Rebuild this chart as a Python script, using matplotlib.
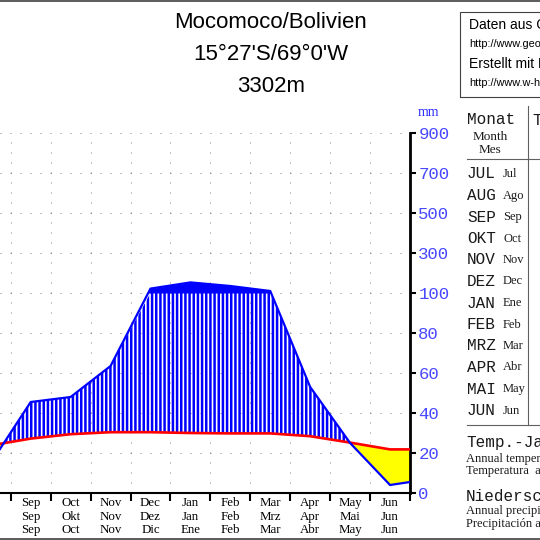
import numpy as np
import matplotlib.pyplot as plt
from matplotlib.lines import Line2D
from matplotlib.patches import Rectangle

# Klimadiagramm Mocomoco, Monate Jul..Jun (Suedhalbkugel)
months_en = ["Jul", "Aug", "Sep", "Oct", "Nov", "Dec", "Jan", "Feb", "Mar", "Apr", "May", "Jun"]
months_de = ["Jul", "Aug", "Sep", "Okt", "Nov", "Dez", "Jan", "Feb", "Mrz", "Apr", "Mai", "Jun"]
months_es = ["Jul", "Ago", "Sep", "Oct", "Nov", "Dic", "Ene", "Feb", "Mar", "Abr", "May", "Jun"]
table_de = ["JUL", "AUG", "SEP", "OKT", "NOV", "DEZ", "JAN", "FEB", "MRZ", "APR", "MAI", "JUN"]
table_es = ["Jul", "Ago", "Sep", "Oct", "Nov", "Dec", "Ene", "Feb", "Mar", "Abr", "May", "Jun"]

temp_c = [10.9, 11.9, 13.6, 14.7, 15.2, 15.2, 15.0, 14.9, 14.9, 14.2, 12.6, 10.9]
precip_mm = [7, 15, 45.5, 48, 63.5, 122, 153, 135, 110, 53, 25, 4]
mm_ticks = [0, 20, 40, 60, 80, 100, 300, 500, 700, 900]

plt.rcParams["hatch.linewidth"] = 1.8
plt.rcParams["hatch.color"] = "blue"

MONO = "Liberation Mono"
SERIF = "Liberation Serif"
SANS = "Liberation Sans"


def scale_mm(v):
    # ueber 100 mm wird im Massstab 1:10 gestaucht
    v = np.asarray(v, float)
    return np.where(v <= 100, v, 100 + (v - 100) / 10)


W = H = 540.0
fig = plt.figure(figsize=(5.4, 5.4), dpi=100)


def ftext(x, y, s, **kw):
    fig.text(x / W, 1 - y / H, s, **kw)


def fline(x0, y0, x1, y1, **kw):
    fig.add_artist(Line2D([x0 / W, x1 / W], [1 - y0 / H, 1 - y1 / H],
                          transform=fig.transFigure, **kw))


ax = fig.add_axes([0, 47 / H, 410 / W, 360 / H])

x = np.arange(13)
t = np.r_[temp_c, temp_c[0]] * 2
p = scale_mm(np.r_[precip_mm, precip_mm[0]])

ax.fill_between(x, t, np.minimum(p, 100), where=p >= t, interpolate=True,
                facecolor="none", edgecolor="blue", hatch="||||", lw=0, zorder=2)
ax.fill_between(x, 100, p, where=p > 100, interpolate=True,
                color="blue", lw=0, zorder=2)
ax.fill_between(x, p, t, where=p < t, interpolate=True,
                color="yellow", lw=0, zorder=2)
ax.plot(x, t, color="red", lw=1.9, zorder=3)
ax.plot(x, p, color="blue", lw=1.6, zorder=4)

ax.set_xticks(np.arange(0.5, 12, 1))
ax.set_xticks(np.arange(12), [f"{a}\n{b}\n{c}" for a, b, c in zip(months_en, months_de, months_es)],
              minor=True)
ax.tick_params(axis="x", which="major", length=6, width=1.5, labelbottom=False)
ax.tick_params(axis="x", which="minor", length=0, pad=3, labelsize=9.3)
for lab in ax.get_xticklabels(minor=True):
    lab.set_fontfamily(SERIF)
    lab.set_linespacing(1.17)

ax.yaxis.tick_right()
ax.set_yticks(scale_mm(mm_ticks), [str(v) for v in mm_ticks])
ax.tick_params(axis="y", length=4, width=1.5, pad=2, labelsize=12.5, labelcolor="#4848ff")
for lab in ax.get_yticklabels():
    lab.set_fontfamily(MONO)

ax.set_xlim(2 - 30.7 / 39.93, 11.5)
ax.set_ylim(0, 180)

ax.grid(True, which="major", color="#808080", lw=0.72, linestyle=(0, (1, 9)), zorder=0)
ax.set_axisbelow(True)
for side in ["left", "top"]:
    ax.spines[side].set_visible(False)
ax.spines["bottom"].set_linewidth(1.5)
ax.spines["right"].set_linewidth(2)
ax.patch.set_alpha(0)

ftext(428, 112, "mm", color="#3030ff", fontsize=10, family=SERIF, ha="center", va="center")

# Titel
ftext(271, 23, "Mocomoco/Bolivien", fontsize=16, family=SANS, ha="center", va="center")
ftext(271, 55, "15°27'S/69°0'W", fontsize=16, family=SANS, ha="center", va="center")
ftext(271, 86, "3302m", fontsize=16, family=SANS, ha="center", va="center")

# Quellenkasten
fig.add_artist(Rectangle((460 / W, 1 - 97 / H), 100 / W, 85 / H, transform=fig.transFigure,
                         fill=False, edgecolor="#404040", lw=0.8))
ftext(469, 25, "Daten aus CLIMWAT", fontsize=10, family=SANS, va="center")
ftext(469, 44, "http://www.geonames.org", fontsize=7.8, family=SANS, va="center")
ftext(469, 64, "Erstellt mit Klimadiagramm", fontsize=10, family=SANS, va="center")
ftext(469, 83, "http://www.w-hoelzel.de", fontsize=7.8, family=SANS, va="center")

# Tabelle rechts
dark = "#1a1a1a"
ftext(467, 120, "Monat", fontsize=11.5, family=MONO, color=dark, va="center")
ftext(490, 137, "Month", fontsize=9.5, family=SERIF, color=dark, ha="center", va="center")
ftext(490, 150, "Mes", fontsize=9.5, family=SERIF, color=dark, ha="center", va="center")
ftext(532, 120, "Temp.", fontsize=11.5, family=MONO, color=dark, va="center")
for i, (de, es) in enumerate(zip(table_de, table_es)):
    y = 174 + i * 21.5
    ftext(467, y, de, fontsize=11.5, family=MONO, color=dark, va="center")
    ftext(503, y, es, fontsize=9, family=SERIF, color=dark, va="center")
fline(467, 159, 540, 159, color="#606060", lw=0.8)
fline(528, 106, 528, 425, color="#606060", lw=0.8)
fline(467, 425, 540, 425, color="#606060", lw=0.8)

ftext(466, 442, "Temp.-Jahresmittel", fontsize=11.5, family=MONO, color=dark, va="center")
ftext(466, 459, "Annual temperature", fontsize=9, family=SERIF, color=dark, va="center")
ftext(466, 471, "Temperatura  anual", fontsize=9, family=SERIF, color=dark, va="center")
ftext(466, 497, "Niederschlag", fontsize=11.5, family=MONO, color=dark, va="center")
ftext(466, 511, "Annual precipitation", fontsize=9, family=SERIF, color=dark, va="center")
ftext(466, 524, "Precipitación anual", fontsize=9, family=SERIF, color=dark, va="center")

# Rahmen oben/unten
fline(0, 0.8, 540, 0.8, color="#404040", lw=1.2)
fline(0, 538.5, 540, 538.5, color="#404040", lw=1.2)

fig.savefig("out.png", dpi=100)
